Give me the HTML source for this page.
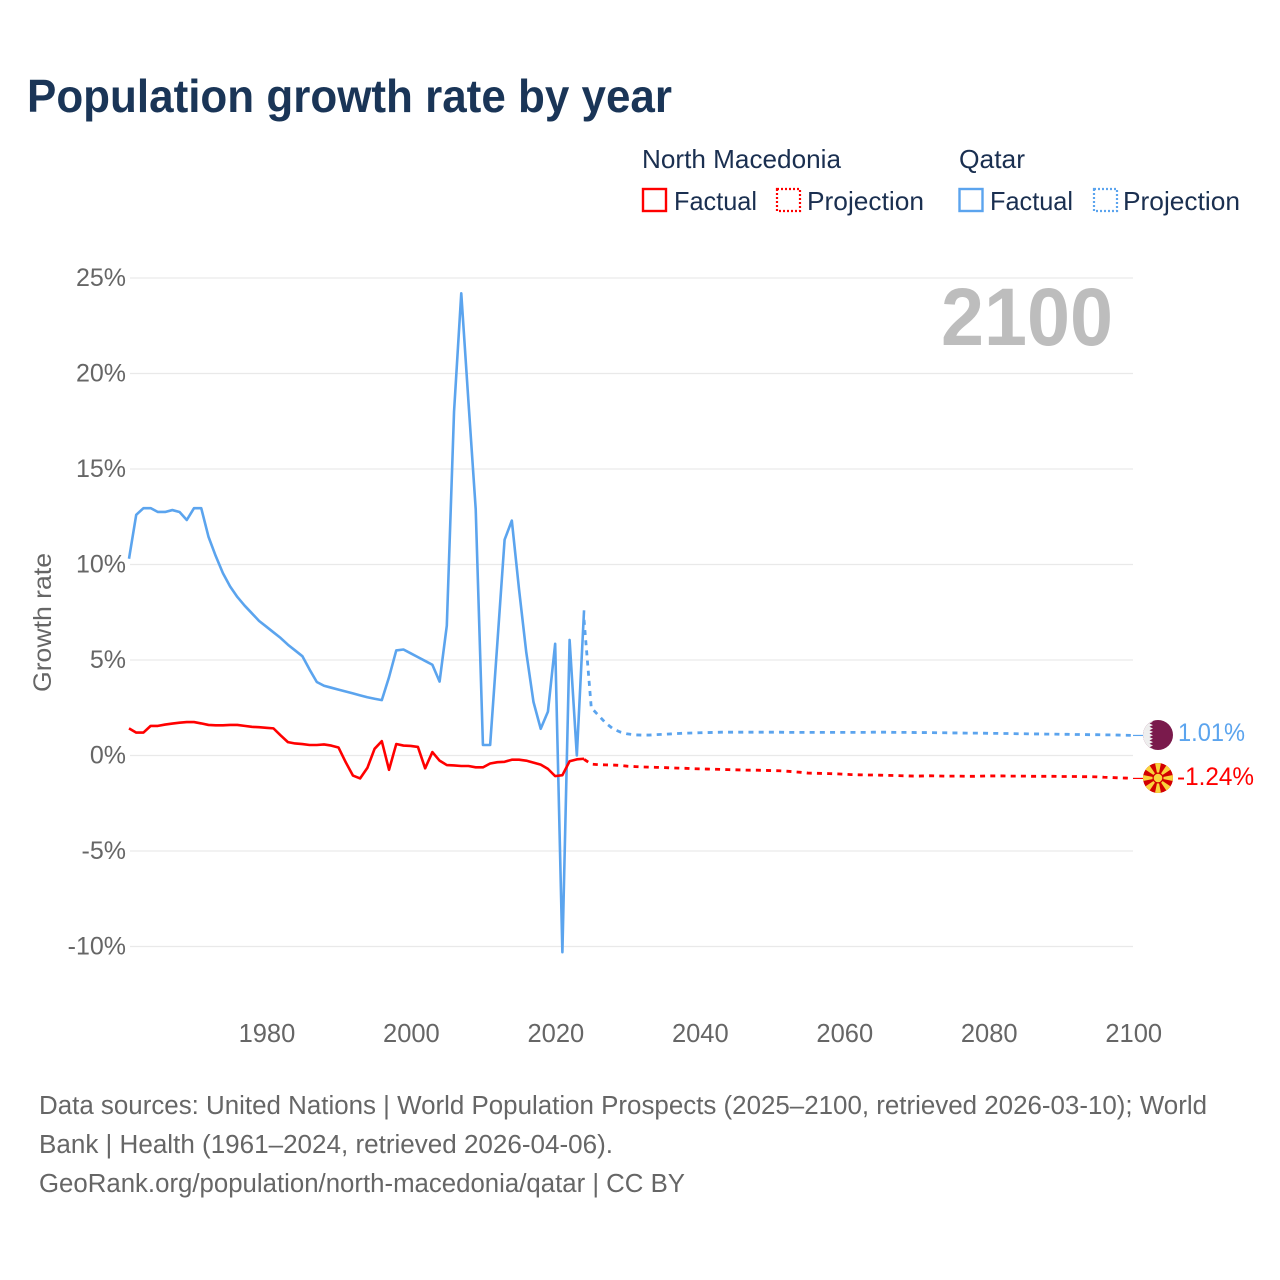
<!DOCTYPE html>
<html lang="en">
<head>
<meta charset="utf-8">
<title>Population growth rate by year</title>
<style>
html,body{margin:0;padding:0;background:#fff;}
svg{display:block;font-family:"Liberation Sans",sans-serif;}
</style>
</head>
<body>
<svg id="chart" xmlns="http://www.w3.org/2000/svg" width="1280" height="1280" viewBox="0 0 1280 1280">
  <rect x="0" y="0" width="1280" height="1280" fill="#ffffff"/>
  <text x="27" y="112" font-size="46" font-weight="700" fill="#1a3557" textLength="645" lengthAdjust="spacingAndGlyphs">Population growth rate by year</text>

  <g font-size="26" fill="#1a2f50">
    <text x="642" y="168" textLength="199" lengthAdjust="spacingAndGlyphs">North Macedonia</text>
    <text x="959" y="168" textLength="66" lengthAdjust="spacingAndGlyphs">Qatar</text>
    <rect x="643" y="189" width="23" height="22" fill="none" stroke="#ff0000" stroke-width="2.400"/>
    <text x="674" y="210" textLength="83" lengthAdjust="spacingAndGlyphs">Factual</text>
    <rect x="777" y="189" width="23" height="22" fill="none" stroke="#ff0000" stroke-width="2.200" stroke-dasharray="2 2"/>
    <text x="807" y="210" textLength="117" lengthAdjust="spacingAndGlyphs">Projection</text>
    <rect x="959.500" y="189" width="23" height="22" fill="none" stroke="#5ba4ee" stroke-width="2.400"/>
    <text x="990" y="210" textLength="83" lengthAdjust="spacingAndGlyphs">Factual</text>
    <rect x="1094" y="189" width="23" height="22" fill="none" stroke="#5ba4ee" stroke-width="2.200" stroke-dasharray="2 2"/>
    <text x="1123" y="210" textLength="117" lengthAdjust="spacingAndGlyphs">Projection</text>
  </g>

  <text transform="translate(51,622.500) rotate(-90)" text-anchor="middle" font-size="25" fill="#666666" textLength="139" lengthAdjust="spacingAndGlyphs">Growth rate</text>

  <g id="grid"></g>
  <g id="yticks"></g>
  <g id="xticks"></g>

  <text x="1113" y="345" text-anchor="end" font-size="82" font-weight="700" fill="#bdbdbd" textLength="172" lengthAdjust="spacingAndGlyphs">2100</text>

  <g id="series"></g>

  <g>
    <clipPath id="qa-clip"><circle cx="1158" cy="735" r="15"/></clipPath>
    <g clip-path="url(#qa-clip)">
      <rect x="1143" y="720" width="30" height="30" fill="#7a1a4c"/>
      <polygon fill="#eeeeee" points="1143,720 1150,720 1153,721.700 1149.500,723.400 1153,725.100 1149.500,726.800 1153,728.500 1149.500,730.200 1153,731.900 1149.500,733.600 1153,735.300 1149.500,737 1153,738.700 1149.500,740.400 1153,742.100 1149.500,743.800 1153,745.500 1149.500,747.200 1153,748.900 1150,750 1143,750"/>
    </g>
    <text x="1178" y="741" font-size="25" fill="#5ba4ee" textLength="67" lengthAdjust="spacingAndGlyphs">1.01%</text>
  </g>

  <g>
    <clipPath id="mk-clip"><circle cx="1158" cy="778" r="15"/></clipPath>
    <g clip-path="url(#mk-clip)">
      <rect x="1143" y="763" width="30" height="30" fill="#d20000"/>
      <g fill="#f9d23c">
        <polygon points="1158,778 1153.600,756 1162.400,756"/>
        <polygon transform="rotate(45 1158 778)" points="1158,778 1153.600,756 1162.400,756"/>
        <polygon transform="rotate(90 1158 778)" points="1158,778 1153.600,756 1162.400,756"/>
        <polygon transform="rotate(135 1158 778)" points="1158,778 1153.600,756 1162.400,756"/>
        <polygon transform="rotate(180 1158 778)" points="1158,778 1153.600,756 1162.400,756"/>
        <polygon transform="rotate(225 1158 778)" points="1158,778 1153.600,756 1162.400,756"/>
        <polygon transform="rotate(270 1158 778)" points="1158,778 1153.600,756 1162.400,756"/>
        <polygon transform="rotate(315 1158 778)" points="1158,778 1153.600,756 1162.400,756"/>
      </g>
      <circle cx="1158" cy="778" r="5.500" fill="#d20000"/>
      <circle cx="1158" cy="778" r="4.300" fill="#f9d23c"/>
    </g>
    <text x="1177" y="785" font-size="25" fill="#ff0000" textLength="77" lengthAdjust="spacingAndGlyphs">-1.24%</text>
  </g>

  <g font-size="25.500" fill="#666666">
    <text x="39" y="1114" textLength="1168" lengthAdjust="spacingAndGlyphs">Data sources: United Nations | World Population Prospects (2025–2100, retrieved 2026-03-10); World</text>
    <text x="39" y="1153" textLength="574" lengthAdjust="spacingAndGlyphs">Bank | Health (1961–2024, retrieved 2026-04-06).</text>
    <text x="39" y="1192" textLength="646" lengthAdjust="spacingAndGlyphs">GeoRank.org/population/north-macedonia/qatar | CC BY</text>
  </g>
</svg>

<script>
const yTickValues = [25, 20, 15, 10, 5, 0, -5, -10];
const xTickValues = [1980, 2000, 2020, 2040, 2060, 2080, 2100];

const factualYears = [1961,1962,1963,1964,1965,1966,1967,1968,1969,1970,1971,1972,1973,1974,1975,1976,1977,1978,1979,1980,1981,1982,1983,1984,1985,1986,1987,1988,1989,1990,1991,1992,1993,1994,1995,1996,1997,1998,1999,2000,2001,2002,2003,2004,2005,2006,2007,2008,2009,2010,2011,2012,2013,2014,2015,2016,2017,2018,2019,2020,2021,2022,2023,2024];

const qatarFactual = [10.3,12.6,12.95,12.95,12.75,12.75,12.85,12.75,12.33,12.95,12.95,11.46,10.45,9.55,8.85,8.3,7.85,7.45,7.05,6.75,6.45,6.15,5.8,5.5,5.2,4.5,3.85,3.65,3.55,3.45,3.35,3.25,3.15,3.05,2.97,2.9,4.1,5.5,5.55,5.35,5.15,4.95,4.75,3.87,6.8,18,24.2,18.5,12.9,0.55,0.55,5.9,11.3,12.3,8.7,5.4,2.8,1.4,2.3,5.85,-10.3,6.05,0,7.6];

const macedoniaFactual = [1.42,1.2,1.2,1.55,1.55,1.62,1.67,1.72,1.75,1.75,1.68,1.6,1.58,1.58,1.6,1.6,1.55,1.5,1.48,1.45,1.42,1.05,0.7,0.63,0.6,0.55,0.55,0.58,0.52,0.42,-0.35,-1.05,-1.2,-0.65,0.35,0.75,-0.75,0.6,0.52,0.5,0.45,-0.67,0.18,-0.27,-0.5,-0.52,-0.55,-0.55,-0.62,-0.62,-0.42,-0.35,-0.33,-0.22,-0.22,-0.27,-0.37,-0.48,-0.7,-1.08,-1.03,-0.3,-0.2,-0.17];

const projectionYears = [2024,2025,2026,2027,2028,2029,2030,2031,2032,2033,2034,2035,2036,2037,2038,2039,2040,2041,2042,2043,2044,2045,2046,2047,2048,2049,2050,2051,2052,2053,2054,2055,2056,2057,2058,2059,2060,2061,2062,2063,2064,2065,2066,2067,2068,2069,2070,2071,2072,2073,2074,2075,2076,2077,2078,2079,2080,2081,2082,2083,2084,2085,2086,2087,2088,2089,2090,2091,2092,2093,2094,2095,2096,2097,2098,2099,2100];

const qatarProjection = [7.1,2.5,2.1,1.7,1.4,1.23,1.13,1.08,1.07,1.07,1.09,1.11,1.13,1.15,1.17,1.18,1.19,1.2,1.21,1.22,1.22,1.22,1.22,1.22,1.22,1.22,1.22,1.22,1.21,1.21,1.21,1.21,1.21,1.21,1.21,1.21,1.21,1.21,1.21,1.21,1.22,1.22,1.22,1.21,1.21,1.21,1.2,1.2,1.2,1.19,1.19,1.18,1.18,1.17,1.17,1.17,1.16,1.16,1.15,1.15,1.14,1.14,1.13,1.13,1.12,1.12,1.11,1.11,1.1,1.1,1.09,1.09,1.08,1.08,1.07,1.06,1.05];

const macedoniaProjection = [-0.2,-0.45,-0.48,-0.49,-0.5,-0.52,-0.56,-0.58,-0.6,-0.61,-0.62,-0.63,-0.65,-0.66,-0.67,-0.69,-0.7,-0.71,-0.72,-0.73,-0.74,-0.75,-0.76,-0.77,-0.77,-0.78,-0.79,-0.8,-0.82,-0.85,-0.88,-0.92,-0.93,-0.94,-0.95,-0.96,-0.98,-1.0,-1.01,-1.02,-1.02,-1.03,-1.04,-1.05,-1.06,-1.07,-1.08,-1.07,-1.06,-1.07,-1.08,-1.08,-1.08,-1.09,-1.09,-1.08,-1.07,-1.07,-1.07,-1.08,-1.08,-1.08,-1.09,-1.09,-1.09,-1.09,-1.1,-1.1,-1.1,-1.11,-1.11,-1.12,-1.14,-1.15,-1.17,-1.18,-1.2];

const NS = 'http://www.w3.org/2000/svg';
function xScale(year) { return 129 + (year - 1961) * (1133 - 129) / (2100 - 1961); }
function yScale(value) { return 755.5 - value * 19.1; }

function pathFrom(years, values) {
  return years.map(function (year, i) {
    return (i ? 'L' : 'M') + xScale(year).toFixed(2) + ' ' + yScale(values[i]).toFixed(2);
  }).join(' ');
}

const grid = document.getElementById('grid');
const yTicks = document.getElementById('yticks');
const xTicks = document.getElementById('xticks');
const series = document.getElementById('series');

yTickValues.forEach(function (value) {
  const line = document.createElementNS(NS, 'line');
  
  
  line.setAttribute('x1', 130);
  line.setAttribute('x2', 1133);
  line.setAttribute('y1', yScale(value));
  line.setAttribute('y2', yScale(value));
  line.setAttribute('stroke', '#e9e9e9');
  line.setAttribute('stroke-width', 1.3);
  grid.appendChild(line);

  const label = document.createElementNS(NS, 'text');
  
  
  label.setAttribute('x', 126);
  label.setAttribute('y', yScale(value) + 8);
  label.setAttribute('text-anchor', 'end');
  label.setAttribute('font-size', 25);
  label.setAttribute('fill', '#666666');
  label.textContent = value + '%';
  yTicks.appendChild(label);
});

xTickValues.forEach(function (year) {
  const label = document.createElementNS(NS, 'text');
  
  
  label.setAttribute('x', xScale(year) + 0.7);
  label.setAttribute('y', 1042);
  label.setAttribute('text-anchor', 'middle');
  label.setAttribute('font-size', 25.5);
  label.setAttribute('fill', '#666666');
  label.textContent = year;
  xTicks.appendChild(label);
});

function addLine(years, values, color, dashed, name) {
  const path = document.createElementNS(NS, 'path');
  
  
  path.setAttribute('d', pathFrom(years, values));
  path.setAttribute('fill', 'none');
  path.setAttribute('stroke', color);
  path.setAttribute('stroke-width', dashed ? 2.8 : 2.6);
  path.setAttribute('stroke-linejoin', 'round');
  if (dashed) path.setAttribute('stroke-dasharray', '5 5.2');
  series.appendChild(path);
}

addLine(projectionYears, qatarProjection, '#5ba4ee', true, 'qatar-projection-line');
addLine(projectionYears, macedoniaProjection, '#ff0000', true, 'north-macedonia-projection-line');
addLine(factualYears, qatarFactual, '#5ba4ee', false, 'qatar-factual-line');
addLine(factualYears, macedoniaFactual, '#ff0000', false, 'north-macedonia-factual-line');

function addLeader(value, color, name) {
  const leader = document.createElementNS(NS, 'line');
  
  
  leader.setAttribute('x1', xScale(2100));
  leader.setAttribute('x2', 1143);
  leader.setAttribute('y1', yScale(value));
  leader.setAttribute('y2', yScale(value));
  leader.setAttribute('stroke', color);
  leader.setAttribute('stroke-width', 1.2);
  series.appendChild(leader);
}
addLeader(qatarProjection[qatarProjection.length - 1], '#5ba4ee', 'qatar-end-leader');
addLeader(macedoniaProjection[macedoniaProjection.length - 1], '#ff0000', 'north-macedonia-end-leader');
</script>
</body>
</html>
